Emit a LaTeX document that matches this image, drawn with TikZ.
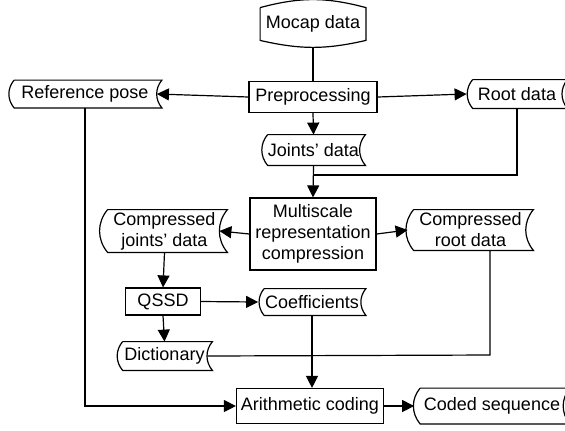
\documentclass[tikz,border=0pt]{standalone}
\usepackage{fontspec}
\setmainfont{Liberation Sans}
\usepackage{tikz}
\usetikzlibrary{arrows.meta, positioning}
\tikzset{
  processnode/.style={draw, rectangle, semithick, align=center, inner sep=1pt},
  datanode/.style={align=center, inner sep=0pt,
    append after command={\pgfextra{
      \draw[semithick] ([xshift=3pt]\tikzlastnode.north west) -- (\tikzlastnode.north east)
        to[bend right=40] (\tikzlastnode.south east) -- ([xshift=3pt]\tikzlastnode.south west)
        to[bend left=40] ([xshift=3pt]\tikzlastnode.north west);}}},
  sourcenode/.style={align=center, inner sep=0pt,
    append after command={\pgfextra{
      \draw[semithick] (\tikzlastnode.north west) -- (\tikzlastnode.south west)
        to[bend right=13] (\tikzlastnode.south east) -- (\tikzlastnode.north east)
        to[bend right=15] (\tikzlastnode.north west);}}},
  arrow/.style={-{Triangle[length=6pt,width=6pt]}, semithick},
  line/.style={semithick}
}

\begin{document}
\begin{tikzpicture}[x=0.5pt, y=-0.5pt, font=\fontsize{9}{10.5}\selectfont]
\useasboundingbox (0,0) rectangle (565,430);
\clip (0,0) rectangle (565,430);

% Nodes
\node[sourcenode, minimum width=52.5pt, minimum height=16pt] (mocap) at (313,24) {Mocap data};
\node[processnode, minimum width=64pt, minimum height=15.5pt] (prep) at (313,97) {Preprocessing};
\node[datanode, minimum width=76.5pt, minimum height=13.5pt] (refpose) at (85,94) {Reference pose};
\node[datanode, minimum width=50pt, minimum height=14pt] (rootdata) at (517,94) {Root data};
\node[datanode, minimum width=51.5pt, minimum height=15pt] (joints) at (313.5,150) {Joints' data};
\node[processnode, minimum width=63pt, minimum height=36pt] (msrc) at (313,234) {Multiscale\\representation\\compression};
\node[datanode, minimum width=62.5pt, minimum height=21pt] (cjoints) at (164.5,231) {Compressed\\joints' data};
\node[datanode, minimum width=62.5pt, minimum height=20pt] (croot) at (470.5,230) {Compressed\\root data};
\node[processnode, minimum width=37.5pt, minimum height=13.5pt] (qssd) at (163,301.5) {QSSD};
\node[datanode, minimum width=53.5pt, minimum height=13pt] (coef) at (312,302) {Coefficients};
\node[datanode, minimum width=47.5pt, minimum height=14pt] (dict) at (164.5,356) {Dictionary};
\node[processnode, minimum width=73.5pt, minimum height=17.5pt] (arith) at (310,406) {Arithmetic coding};
\node[datanode, minimum width=77.5pt, minimum height=17.5pt] (coded) at (492,406) {Coded sequence};
\coordinate (merge) at (313,175);
\coordinate (rootdrop) at (490,355);

% Connections
\draw[line] ([yshift=-3.5pt]mocap.south) -- (prep.north);
\draw[arrow] (prep.west) -- ([xshift=-2.5pt]refpose.east);
\draw[arrow] (prep.east) -- (rootdata.west);
\draw[arrow] (prep.south) -- (joints.north);
\draw[arrow] (joints.south) -- (msrc.north);
\draw[line] (rootdata.south) -- (rootdata.south |- merge) -- (merge);
\draw[arrow] (msrc.west) -- ([xshift=-4pt]cjoints.east);
\draw[arrow] (msrc.east) -- (croot.west);
\draw[arrow] (cjoints.south) -- (qssd.north);
\draw[arrow] (qssd.east) -- (coef.west);
\draw[arrow] (qssd.south) -- (dict.north);
\draw[arrow] (coef.south) -- (coef.south |- arith.north);
\draw[line] ([xshift=-2.5pt]dict.east) -- (rootdrop) -- (croot.south -| rootdrop);
\draw[arrow] (refpose.south) -- (refpose.south |- arith.west) -- (arith.west);
\draw[arrow] (arith.east) -- (coded.west);

\end{tikzpicture}
\end{document}
